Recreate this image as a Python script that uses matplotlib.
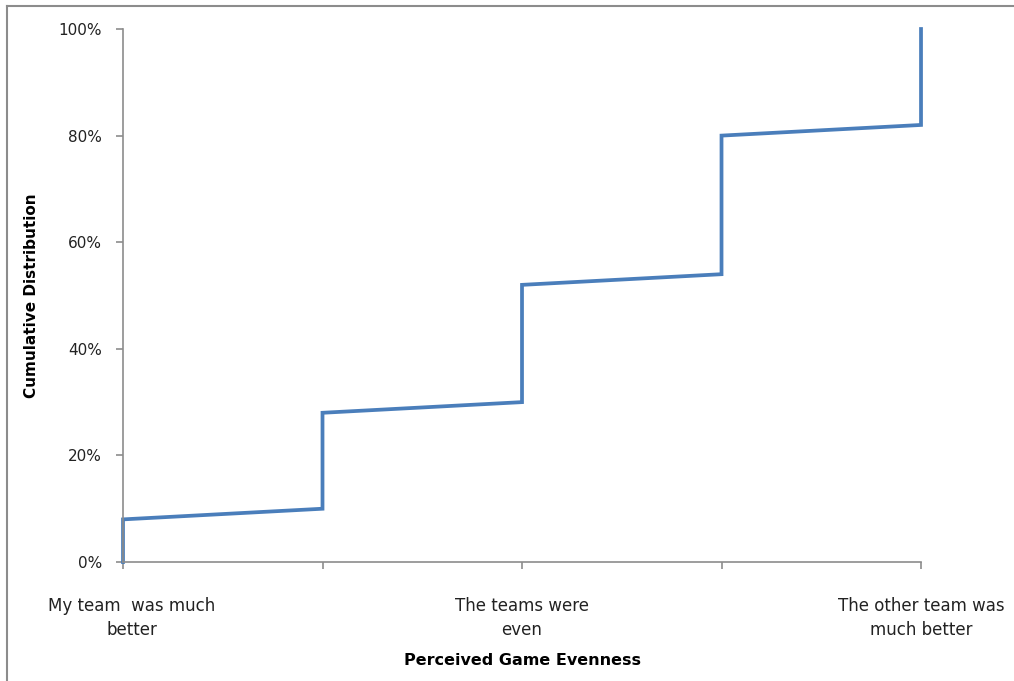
import matplotlib.pyplot as plt
from matplotlib.lines import Line2D
from matplotlib.ticker import PercentFormatter
from matplotlib.transforms import ScaledTranslation

# perceived evenness categories (5 positions, only 3 labelled)
positions = [0, 1, 2, 3, 4]
tick_labels = ["My team  was much\nbetter", "", "The teams were\neven", "", "The other team was\nmuch better"]
# cumulative share (%) entering and leaving each position
cum_start = [0, 10, 30, 54, 82]
cum_end = [8, 28, 52, 80, 100]

xs, ys = [], []
for p, a, b in zip(positions, cum_start, cum_end):
    xs += [p, p]
    ys += [a, b]

fig = plt.figure(figsize=(10.14, 6.81), dpi=100)
ax = fig.add_axes([0.1213, 0.1747, 0.787, 0.7827])

ax.plot(xs, ys, color="#4a7ebb", linewidth=2.7, solid_joinstyle="miter", clip_on=False)

ax.set_xlim(0, 4)
ax.set_ylim(0, 100)
ax.set_yticks(range(0, 101, 20))
ax.yaxis.set_major_formatter(PercentFormatter(decimals=0))
ax.set_xticks(positions)
ax.set_xticklabels(tick_labels, linespacing=1.45)

for s in ["top", "right"]:
    ax.spines[s].set_visible(False)
for s in ["left", "bottom"]:
    ax.spines[s].set_color("#8c8c8c")
    ax.spines[s].set_linewidth(1.2)

ax.tick_params(axis="both", direction="out", length=5, width=1.2, color="#8c8c8c",
               labelsize=11, labelcolor="#222222")
ax.tick_params(axis="x", pad=20, labelsize=12)
ax.tick_params(axis="y", pad=10)

# first category label sits a little right of its tick in the original
lab0 = ax.get_xticklabels()[0]
lab0.set_transform(lab0.get_transform() + ScaledTranslation(0.09, 0, fig.dpi_scale_trans))

ax.set_xlabel("Perceived Game Evenness", fontsize=11.5, fontweight="bold", labelpad=10)
ax.set_ylabel("Cumulative Distribution", fontsize=11, fontweight="bold", labelpad=14)

# outer chart border (right/bottom edges fall outside the picture)
fig.add_artist(Line2D([7 / 1014, 1.0], [1 - 6 / 681, 1 - 6 / 681], transform=fig.transFigure,
                      color="#8c8c8c", linewidth=1.5))
fig.add_artist(Line2D([7 / 1014, 7 / 1014], [0.0, 1 - 6 / 681], transform=fig.transFigure,
                      color="#8c8c8c", linewidth=1.5))

fig.savefig("out.png", dpi=100)
